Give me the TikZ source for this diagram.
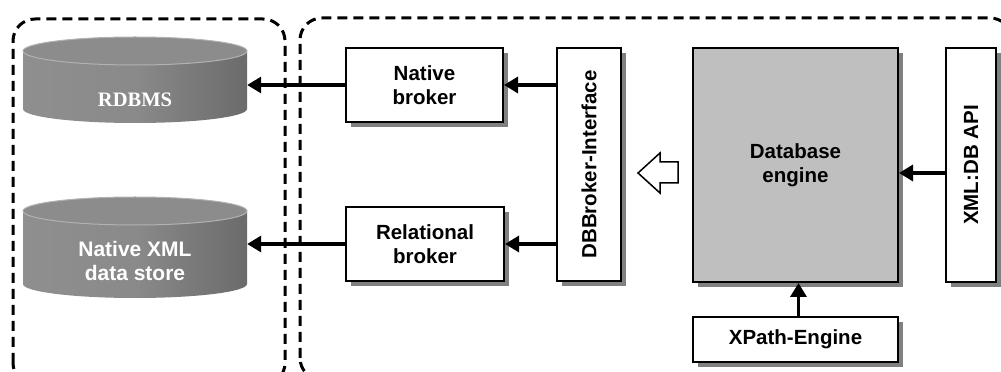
\documentclass[tikz,border=0pt]{standalone}
\usepackage{fontspec}
\usepackage{graphicx}
\setmainfont{Liberation Sans}
\newfontfamily\timesfont{Liberation Serif}
\usetikzlibrary{arrows.meta,shadows}

\tikzset{
  block/.style={draw, line width=2pt, fill=white, align=center, inner sep=0pt,
    font=\bfseries\fontsize{20.5}{24}\selectfont,
    drop shadow={shadow xshift=5pt, shadow yshift=-5pt, fill=black!50, opacity=1}},
  storetext/.style={text=white, align=center, inner sep=0pt, minimum width=224pt,
    font=\bfseries\fontsize{21}{23.5}\selectfont},
  conn/.style={line width=3.2pt, -{Triangle[length=14pt,width=16pt]}},
  group/.style={line width=3pt, dash pattern=on 10pt off 6pt, rounded corners=22pt},
  dbbody/.style={left color=black!44, right color=black!58, middle color=black!46},
  dbtop/.style={fill=black!45, draw=black!30, line width=1pt},
}

\begin{document}
\begin{tikzpicture}[x=1pt, y=1pt]
    \useasboundingbox (0,0) rectangle (1001,372);

    % storage side
    \draw[group] (13,-13) rectangle (285,353);
    % eXist side
    \draw[group] (300,-8) rectangle (1012,354);

    % cylinders
    \shade[dbbody] (23,321) -- (23,263) arc[start angle=180, end angle=360, x radius=112pt, y radius=14pt] -- (247,321) -- cycle;
    \filldraw[dbtop] (135,321) ellipse[x radius=112pt, y radius=14pt];
    \shade[dbbody] (23,161) -- (23,88) arc[start angle=180, end angle=360, x radius=112pt, y radius=14pt] -- (247,161) -- cycle;
    \filldraw[dbtop] (135,161) ellipse[x radius=112pt, y radius=14pt];

    \node[storetext, font=\timesfont\bfseries\fontsize{20.5}{24}\selectfont] (rdbms) at (135,272) {RDBMS};
    \node[storetext] (xmlstore) at (135,111) {Native XML\\data store};

    % brokers
    \node[block, minimum width=157pt, minimum height=74pt] (nbroker) at (424.5,287) {Native\\broker};
    \node[block, minimum width=158pt, minimum height=74pt] (rbroker) at (425,128) {Relational\\broker};
    \node[block, minimum width=64pt, minimum height=233pt] (dbbroker) at (589,207.5) {\rotatebox{90}{DBBroker-Interface}};

    % core
    \node[block, fill=black!25, minimum width=205pt, minimum height=234pt] (engine) at (795.5,207) {Database\\engine};
    \node[block, minimum width=50pt, minimum height=234pt] (xmlapi) at (971,207) {\rotatebox{90}{XML:DB API}};
    \node[block, minimum width=205pt, minimum height=45pt] (xpath) at (795.5,32.5) {XPath-Engine};

    % hollow arrow towards the interface
    \filldraw[fill=white, line width=1.5pt, line join=miter]
      (638,199) -- (660,219) -- (660,210) -- (678,210) -- (678,189) -- (660,189) -- (660,179) -- cycle;

    \draw[conn] (nbroker.west) -- (nbroker.west -| rdbms.east);
    \draw[conn] (rbroker.west) -- (rbroker.west -| xmlstore.east);
    \draw[conn] (nbroker.east -| dbbroker.west) -- (nbroker.east);
    \draw[conn] (rbroker.east -| dbbroker.west) -- (rbroker.east);
    \draw[conn] ([yshift=-8pt]xmlapi.west) -- ([yshift=-8pt]engine.east);
    \draw[conn] ([xshift=3pt]xpath.north) -- ([xshift=3pt]engine.south);
\end{tikzpicture}
\end{document}
